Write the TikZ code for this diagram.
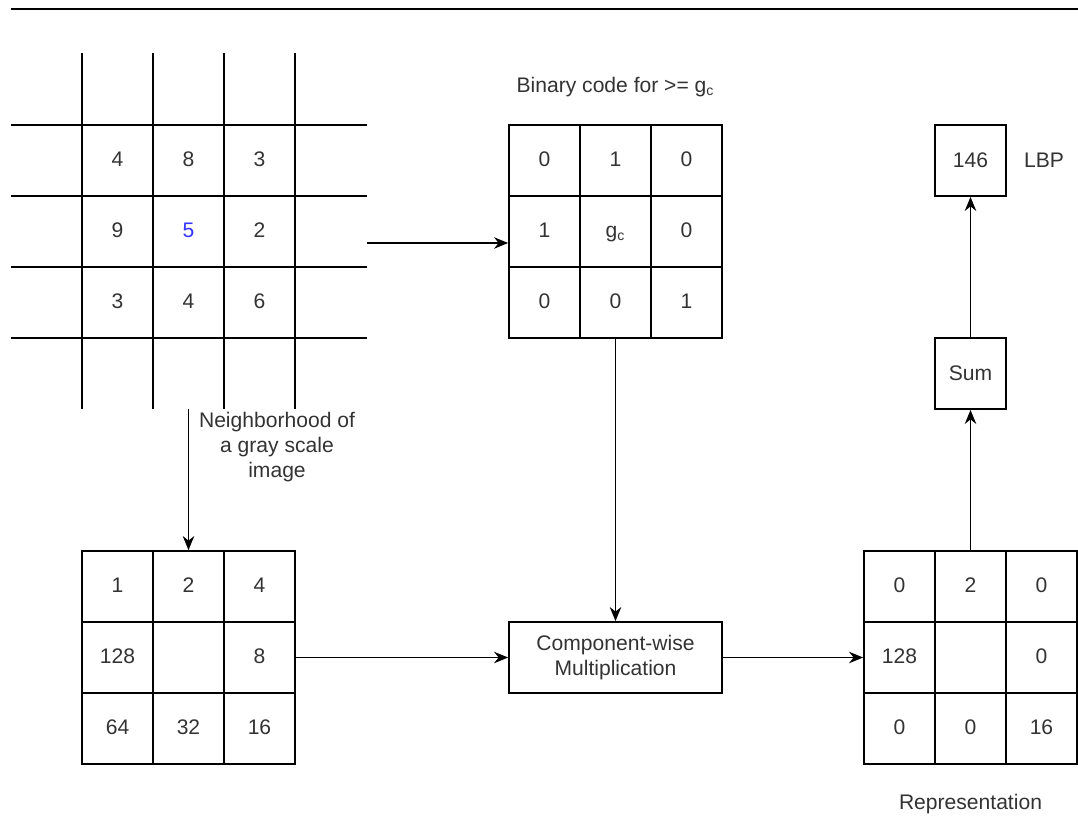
\documentclass[tikz,border=0pt]{standalone}
\usepackage{fontspec}
\setmainfont{Liberation Sans}
\usetikzlibrary{arrows.meta, positioning, matrix, calc}
\definecolor{textgray}{RGB}{51,51,51}
\definecolor{centerblue}{RGB}{51,51,255}

\begin{document}
\begin{tikzpicture}[
    x=0.02cm, y=-0.02cm,
    grid_line/.style={line width=1pt, draw=black},
    grid_cell/.style={draw=black, line width=1pt, anchor=center, minimum width=1.42cm, minimum height=1.42cm, inner sep=0pt, text height=1.6ex, text depth=0.4ex, font=\fontsize{12}{14}\selectfont, text=textgray},
    plain_cell/.style={anchor=center, minimum width=1.42cm, minimum height=1.42cm, inner sep=0pt, text height=1.6ex, text depth=0.4ex, font=\fontsize{12}{14}\selectfont, text=textgray},
    op_box/.style={draw=black, line width=1pt, minimum width=4.26cm, minimum height=1.42cm, inner sep=2pt, align=center, font=\fontsize{12}{14}\selectfont, text=textgray},
    small_box/.style={draw=black, line width=1pt, minimum width=1.42cm, minimum height=1.42cm, inner sep=0pt, font=\fontsize{12}{14}\selectfont, text=textgray},
    label_text/.style={font=\fontsize{12}{14}\selectfont, text=textgray, align=center},
    arrow/.style={-{Stealth[length=8pt, width=6.5pt]}, line width=1pt, draw=black}
]
    \useasboundingbox (0,0) rectangle (1078,816);

    % Top rule
    \draw[grid_line] (11,9) -- (1078,9);

    % Neighborhood grid lines (open border)
    \foreach \x in {82,153,224,295}
        \draw[grid_line] (\x,53) -- (\x,409);
    \foreach \y in {125,196,267,338}
        \draw[grid_line] (11,\y) -- (367,\y);

    % Neighborhood values
    \matrix[matrix of nodes,
        nodes={plain_cell},
        inner sep=0pt,
        ampersand replacement=\&
    ] (neigh) at (188.5,231.5) {
        4 \& 8 \& 3 \\
        9 \& |[text=centerblue]| 5 \& 2 \\
        3 \& 4 \& 6 \\
    };
    \coordinate (neigh_out) at (367,243);
    \coordinate (neigh_bot) at (188.5,409);

    \node[label_text] (neigh_label) at (277,447) {Neighborhood of\\a gray scale\\image};

    % Binary code array
    \matrix[matrix of nodes,
        nodes={grid_cell},
        line width=1pt,
        inner sep=0pt,
        row sep=-\pgflinewidth,
        column sep=-\pgflinewidth,
        ampersand replacement=\&
    ] (binary) at (615.5,231.5) {
        0 \& 1 \& 0 \\
        1 \& g\textsubscript{c} \& 0 \\
        0 \& 0 \& 1 \\
    };
    \node[label_text, above=0.4cm of binary] (binary_title) {Binary code for >= g\textsubscript{c}};

    % Weights array
    \matrix[matrix of nodes,
        nodes={grid_cell},
        nodes in empty cells,
        line width=1pt,
        inner sep=0pt,
        row sep=-\pgflinewidth,
        column sep=-\pgflinewidth,
        ampersand replacement=\&
    ] (weights) at (188.5,657.5) {
        1 \& 2 \& 4 \\
        128 \& \& 8 \\
        64 \& 32 \& 16 \\
    };

    % Component-wise multiplication
    \node[op_box] (mult) at (615.5,657.5) {Component-wise\\Multiplication};

    % Representation array
    \matrix[matrix of nodes,
        nodes={grid_cell},
        nodes in empty cells,
        line width=1pt,
        inner sep=0pt,
        row sep=-\pgflinewidth,
        column sep=-\pgflinewidth,
        ampersand replacement=\&
    ] (result) at (970.5,657.5) {
        0 \& 2 \& 0 \\
        128 \& \& 0 \\
        0 \& 0 \& 16 \\
    };
    \node[label_text, below=0.44cm of result] (result_title) {Representation};

    % Sum and LBP
    \node[small_box] (sum) at (970.5,373.5) {Sum};
    \node[small_box] (lbp) at (970.5,160.5) {146};
    \node[label_text, right=0.22cm of lbp] (lbp_label) {LBP};

    % Connectors
    \draw[arrow] (neigh_out) -- (neigh_out -| binary-2-1.west);
    \draw[arrow] (neigh_bot) -- (weights-1-2.north);
    \draw[arrow] (binary-3-2.south) -- (mult.north);
    \draw[arrow] (weights-2-3.east) -- (mult.west);
    \draw[arrow] (mult.east) -- (result-2-1.west);
    \draw[arrow] (result-1-2.north) -- (sum.south);
    \draw[arrow] (sum.north) -- (lbp.south);

\end{tikzpicture}
\end{document}
